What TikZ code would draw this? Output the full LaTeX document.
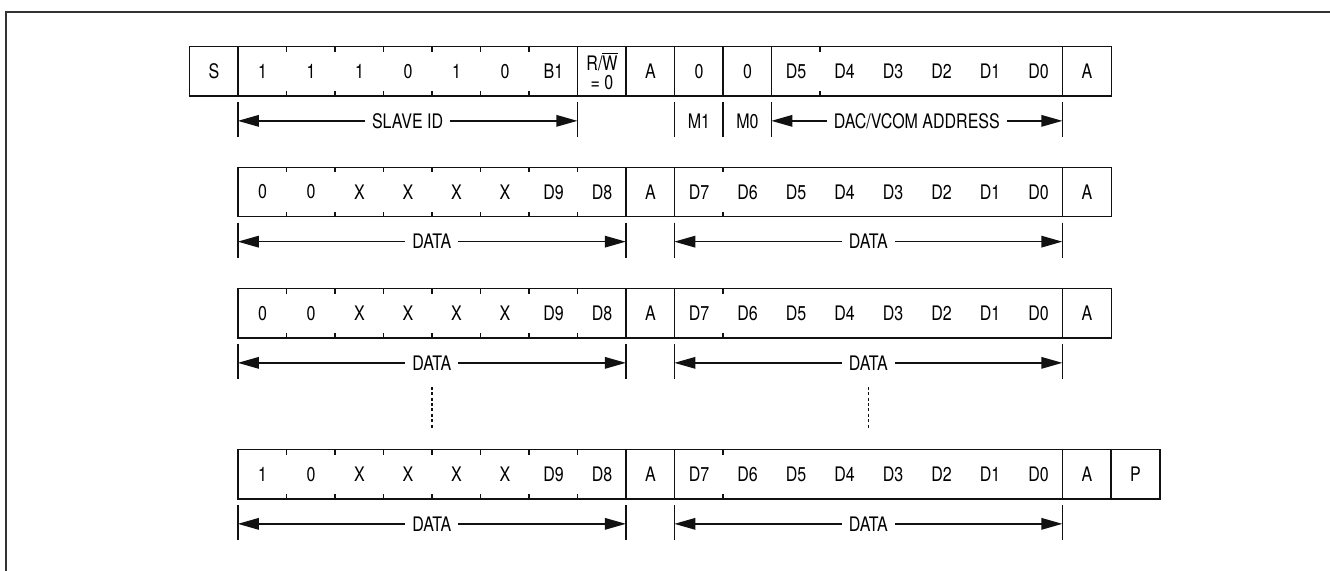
\documentclass[tikz,border=0pt]{standalone}
\usepackage{fontspec}
\setmainfont{TeX Gyre Heros}[FakeStretch=0.8]
\usetikzlibrary{arrows.meta,calc}
\definecolor{bitline}{HTML}{111111}
\definecolor{boxframe}{HTML}{333333}
\tikzset{bitcell/.style={rectangle, minimum width=24.25pt, minimum height=24.25pt, inner sep=0pt, align=center, font=\fontsize{10}{10}\selectfont}}
\tikzset{bitedge/.style={draw=bitline, line width=0.8pt}}
\tikzset{dimbar/.style={draw=bitline, line width=0.7pt}}
\tikzset{dimarrow/.style={{Triangle[length=10.5pt, width=5.8pt]}-{Triangle[length=10.5pt, width=5.8pt]}, draw=bitline, line width=0.65pt}}
\tikzset{dimlabel/.style={fill=white, inner xsep=3.5pt, inner ysep=1pt, font=\fontsize{10}{10}\selectfont}}
\tikzset{skipline/.style={draw=bitline, line width=0.7pt, dash pattern=on 1.5pt off 1.2pt}}
\newcommand{\rwbit}{R/$\overline{\hbox{W}}$\\[-0.5pt]= 0}

\begin{document}
\begin{tikzpicture}[x=0.5pt, y=-0.5pt]
  \useasboundingbox (0,0) rectangle (1330,570);
  \draw[draw=boxframe, line width=1pt] (6,12) rectangle (1350,590);

  % address byte frame
  \foreach \t [count=\i from 0] in {S,1,1,1,0,1,0,B1,{\rwbit},A,0,0,D5,D4,D3,D2,D1,D0,A}
    \node[bitcell] (ra\i) at ({214+48.5*\i},71.2) {\t};
  \draw[bitedge] (ra0.north west) rectangle (ra18.south east);
  \foreach \i in {1,8,9,10,11,12,18}
    \draw[bitedge] (ra\i.north west) -- (ra\i.south west);
  \foreach \i in {2,...,7,13,...,17}
    \draw[bitedge] (ra\i.north west) -- ++(0,5) (ra\i.south west) -- ++(0,-5);

  \foreach \i in {1,8,10,11,12,18}
    \draw[dimbar] ($(ra\i.south west)+(0,6)$) -- ++(0,35);
  \draw[dimarrow] ($(ra1.south west)+(0,25)$) -- node[dimlabel] {SLAVE ID} ($(ra8.south west)+(0,25)$);
  \draw[dimarrow] ($(ra12.south west)+(0,25)$) -- node[dimlabel] {DAC/VCOM ADDRESS} ($(ra18.south west)+(0,25)$);
  \node[bitcell] (m1) at ($(ra10.south)+(0,25)$) {M1};
  \node[bitcell] (m0) at ($(ra11.south)+(0,25)$) {M0};

  % first data word
  \foreach \t [count=\i from 1] in {0,0,X,X,X,X,D9,D8,A,D7,D6,D5,D4,D3,D2,D1,D0,A}
    \node[bitcell] (rb\i) at ({214+48.5*\i},192) {\t};
  \draw[bitedge] (rb1.north west) rectangle (rb18.south east);
  \foreach \i in {9,10,18}
    \draw[bitedge] (rb\i.north west) -- (rb\i.south west);
  \foreach \i in {2,...,8,11,...,17}
    \draw[bitedge] (rb\i.north west) -- ++(0,5) (rb\i.south west) -- ++(0,-5);

  \foreach \i in {1,9,10,18}
    \draw[dimbar] ($(rb\i.south west)+(0,6)$) -- ++(0,35);
  \draw[dimarrow] ($(rb1.south west)+(0,25)$) -- node[dimlabel] {DATA} ($(rb9.south west)+(0,25)$);
  \draw[dimarrow] ($(rb10.south west)+(0,25)$) -- node[dimlabel] {DATA} ($(rb18.south west)+(0,25)$);

  % second data word
  \foreach \t [count=\i from 1] in {0,0,X,X,X,X,D9,D8,A,D7,D6,D5,D4,D3,D2,D1,D0,A}
    \node[bitcell] (rc\i) at ({214+48.5*\i},313.2) {\t};
  \draw[bitedge] (rc1.north west) rectangle (rc18.south east);
  \foreach \i in {9,10,18}
    \draw[bitedge] (rc\i.north west) -- (rc\i.south west);
  \foreach \i in {2,...,8,11,...,17}
    \draw[bitedge] (rc\i.north west) -- ++(0,5) (rc\i.south west) -- ++(0,-5);

  \foreach \i in {1,9,10,18}
    \draw[dimbar] ($(rc\i.south west)+(0,6)$) -- ++(0,35);
  \draw[dimarrow] ($(rc1.south west)+(0,25)$) -- node[dimlabel] {DATA} ($(rc9.south west)+(0,25)$);
  \draw[dimarrow] ($(rc10.south west)+(0,25)$) -- node[dimlabel] {DATA} ($(rc18.south west)+(0,25)$);

  % last data word
  \foreach \t [count=\i from 1] in {1,0,X,X,X,X,D9,D8,A,D7,D6,D5,D4,D3,D2,D1,D0,A,P}
    \node[bitcell] (rd\i) at ({214+48.5*\i},474.2) {\t};
  \draw[bitedge] (rd1.north west) rectangle (rd19.south east);
  \foreach \i in {9,10,18,19}
    \draw[bitedge] (rd\i.north west) -- (rd\i.south west);
  \foreach \i in {2,...,8,11,...,17}
    \draw[bitedge] (rd\i.north west) -- ++(0,5) (rd\i.south west) -- ++(0,-5);

  \foreach \i in {1,9,10,18}
    \draw[dimbar] ($(rd\i.south west)+(0,6)$) -- ++(0,35);
  \draw[dimarrow] ($(rd1.south west)+(0,25)$) -- node[dimlabel] {DATA} ($(rd9.south west)+(0,25)$);
  \draw[dimarrow] ($(rd10.south west)+(0,25)$) -- node[dimlabel] {DATA} ($(rd18.south west)+(0,25)$);

  % words left out
  \draw[skipline] ($(rc5.south west)+(0,49)$) -- ($(rd5.north west)+(0,-21)$);
  \draw[skipline] ($(rc14.south west)+(0,49)$) -- ($(rd14.north west)+(0,-21)$);
\end{tikzpicture}
\end{document}
